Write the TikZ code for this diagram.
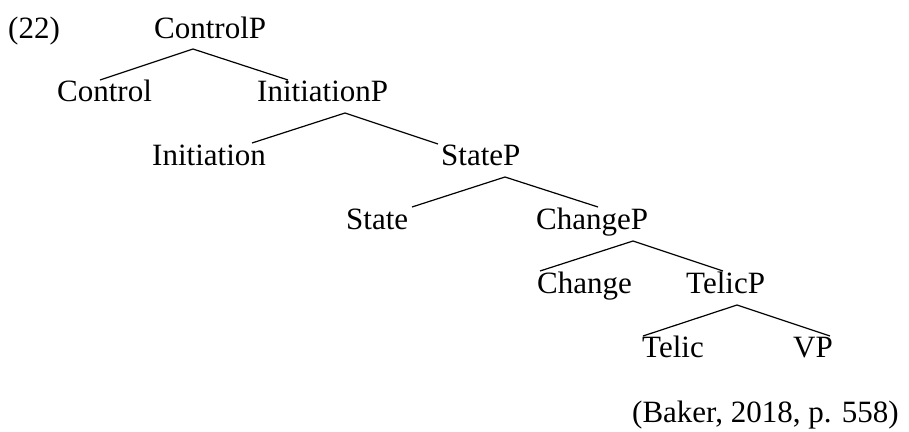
\documentclass[tikz,border=0pt]{standalone}
\usepackage{fontspec}
\setmainfont{Liberation Serif}
\begin{document}
\begin{tikzpicture}[x=1pt,y=-1pt,
  lbl/.style={anchor=base west,inner sep=0pt,font=\fontsize{31}{36}\selectfont},
  branch/.style={line width=1.2pt,line join=miter}]
\useasboundingbox (0,0) rectangle (909,431);
% labels
\node[lbl] (ex) at (8,38) {(22)};
\node[lbl] (controlP) at (154,38) {ControlP};
\node[lbl] (control) at (57,101) {Control};
\node[lbl] (initiationP) at (257,101) {InitiationP};
\node[lbl] (initiation) at (152,165) {Initiation};
\node[lbl] (stateP) at (441,165) {StateP};
\node[lbl] (state) at (346,229) {State};
\node[lbl] (changeP) at (536,229) {ChangeP};
\node[lbl] (change) at (537,293) {Change};
\node[lbl] (telicP) at (686,293) {TelicP};
\node[lbl] (telic) at (642,357) {Telic};
\node[lbl] (vp) at (793,357) {VP};
\node[lbl] (cite) at (632,422) {(Baker, 2018, p. 558)};
% branch points
\coordinate (cpTop) at (193,49);
\coordinate (cpL) at (100,80);
\coordinate (cpR) at (288,80);
\coordinate (ipTop) at (345,113);
\coordinate (ipL) at (252,143);
\coordinate (ipR) at (438,144);
\coordinate (spTop) at (505,177);
\coordinate (spL) at (412,207);
\coordinate (spR) at (598,207);
\coordinate (chTop) at (633,241);
\coordinate (chL) at (540,271);
\coordinate (chR) at (723,271);
\coordinate (tpTop) at (737,305);
\coordinate (tpL) at (643,336);
\coordinate (tpR) at (830,336);
% branches
\draw[branch] (cpL) -- (cpTop) -- (cpR);
\draw[branch] (ipL) -- (ipTop) -- (ipR);
\draw[branch] (spL) -- (spTop) -- (spR);
\draw[branch] (chL) -- (chTop) -- (chR);
\draw[branch] (tpL) -- (tpTop) -- (tpR);
\end{tikzpicture}
\end{document}
